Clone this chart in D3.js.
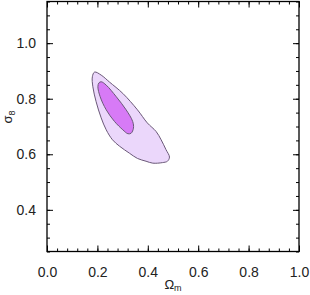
<!DOCTYPE html>
<html>
<head>
<meta charset="utf-8">
<script src="https://cdn.jsdelivr.net/npm/d3@7"></script>
<style>
	body { margin: 0; background: #fff; }
	text { font-family: 'Liberation Sans', Arial, sans-serif; fill: #222; }
</style>
</head>
<body>
<script>
// axis ticks
const xTicks = [0.0, 0.2, 0.4, 0.6, 0.8, 1.0]
const yTicks = [0.4, 0.6, 0.8, 1.0]

// outer (95%) contour, [omega_m, sigma_8]
const outerContour = [
	[0.189, 0.896], [0.215, 0.885], [0.248, 0.860], [0.301, 0.819],
	[0.359, 0.760], [0.398, 0.713], [0.433, 0.682], [0.453, 0.652],
	[0.472, 0.617], [0.486, 0.590], [0.478, 0.575], [0.458, 0.570],
	[0.420, 0.568], [0.393, 0.575], [0.359, 0.585], [0.327, 0.604],
	[0.288, 0.629], [0.260, 0.652], [0.235, 0.688], [0.215, 0.731],
	[0.195, 0.789], [0.182, 0.843], [0.180, 0.879]
]

// inner (68%) contour
const innerContour = [
	[0.215, 0.861], [0.235, 0.849], [0.275, 0.807], [0.314, 0.760],
	[0.340, 0.718], [0.343, 0.694], [0.334, 0.676], [0.321, 0.674],
	[0.301, 0.688], [0.268, 0.718], [0.235, 0.760], [0.211, 0.807],
	[0.202, 0.843], [0.206, 0.857]
]

const width = 310
const height = 295
const margin = {top: 1.5, right: 11, bottom: 43.5, left: 47}

const svg = d3.select('body').append('svg')
	.attr('width', width)
	.attr('height', height)

const x = d3.scaleLinear()
	.domain([0, 1])
	.range([margin.left, width - margin.right])

const y = d3.scaleLinear()
	.domain([0.25, 1.15])
	.range([height - margin.bottom, margin.top])

const line = d3.line()
	.x(d => x(d[0]))
	.y(d => y(d[1]))
	.curve(d3.curveCatmullRomClosed)

svg.append('path')
	.attr('d', line(outerContour))
	.attr('fill', '#ebd7fb')
	.attr('stroke', '#6a5878')
	.attr('stroke-width', 1)

svg.append('path')
	.attr('d', line(innerContour))
	.attr('fill', '#d77af6')
	.attr('stroke', '#6a5878')
	.attr('stroke-width', 1)

// ticks (inward, on all four sides)
const xMinor = d3.range(0, 1.0001, 0.04)
const yMinor = d3.range(0.25, 1.1501, 0.05)
const plotW = x(1) - x(0)
const plotH = y(0.25) - y(1.15)

const addAxis = (axis, tr) => {
	const g = svg.append('g')
		.attr('transform', tr)
		.call(axis)
	g.select('.domain').remove()
	g.selectAll('line').attr('stroke', '#000').attr('stroke-width', 1)
	return g
}

addAxis(d3.axisBottom(x).tickValues(xMinor).tickSize(-3).tickFormat(''), `translate(0,${y(0.25)})`)
addAxis(d3.axisTop(x).tickValues(xMinor).tickSize(-3).tickFormat(''), `translate(0,${y(1.15)})`)
addAxis(d3.axisLeft(y).tickValues(yMinor).tickSize(-3).tickFormat(''), `translate(${x(0)},0)`)
addAxis(d3.axisRight(y).tickValues(yMinor).tickSize(-3).tickFormat(''), `translate(${x(1)},0)`)

addAxis(d3.axisTop(x).tickValues(xTicks).tickSize(-6).tickFormat(''), `translate(0,${y(1.15)})`)
addAxis(d3.axisRight(y).tickValues(yTicks).tickSize(-6).tickFormat(''), `translate(${x(1)},0)`)

const xAx = addAxis(d3.axisBottom(x).tickValues(xTicks).tickSize(-6).tickPadding(16).tickFormat(d3.format('.1f')), `translate(0,${y(0.25)})`)
xAx.selectAll('text').attr('font-size', 14).attr('fill', '#222')

const yAx = addAxis(d3.axisLeft(y).tickValues(yTicks).tickSize(-6).tickPadding(11).tickFormat(d3.format('.1f')), `translate(${x(0)},0)`)
yAx.selectAll('text').attr('font-size', 14).attr('fill', '#222')

svg.selectAll('.tick text').attr('font-family', "'Liberation Sans', Arial, sans-serif")

// frame
svg.append('rect')
	.attr('x', x(0))
	.attr('y', y(1.15))
	.attr('width', plotW)
	.attr('height', plotH)
	.attr('fill', 'none')
	.attr('stroke', '#000')
	.attr('stroke-width', 1.3)

// axis titles
const xt = svg.append('text')
	.attr('x', 173)
	.attr('y', 289)
	.attr('text-anchor', 'middle')
	.attr('font-size', 13)
xt.append('tspan').text('Ω')
xt.append('tspan').attr('font-size', 9).attr('dy', 2).text('m')

const yt = svg.append('text')
	.attr('transform', 'translate(12,117) rotate(-90)')
	.attr('text-anchor', 'middle')
	.attr('font-size', 13)
yt.append('tspan').text('σ')
yt.append('tspan').attr('font-size', 9).attr('dy', 3).text('8')
</script>
</body>
</html>
